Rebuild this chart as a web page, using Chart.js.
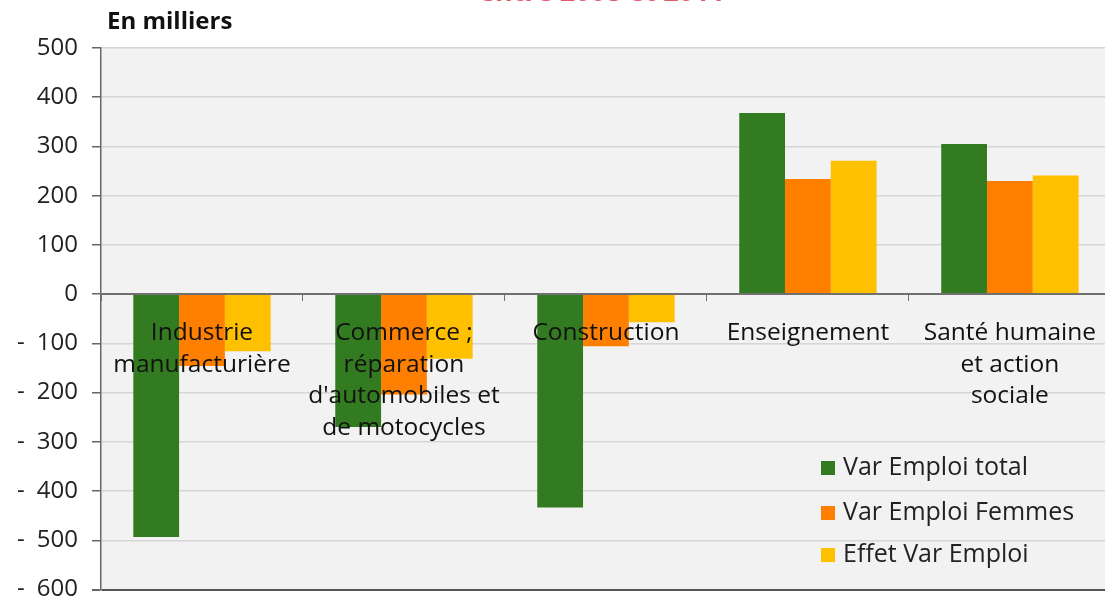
<!DOCTYPE html>
<html>
<head>
<meta charset="utf-8">
<script src="https://cdn.jsdelivr.net/npm/chart.js@4/dist/chart.umd.min.js"></script>
<style>
  html, body { margin: 0; padding: 0; background: #fff; overflow: hidden; }
  #wrap { width: 1113px; height: 606px; }
</style>
</head>
<body>
<div id="wrap"><canvas id="empChart"></canvas></div>
<script>
const categories = [
  ["Industrie", "manufacturière"],
  ["Commerce ;", "réparation", "d'automobiles et", "de motocycles"],
  ["Construction"],
  ["Enseignement"],
  ["Santé humaine", "et action", "sociale"]
];
const seriesNames = ["Var Emploi total", "Var Emploi Femmes", "Effet Var Emploi"];
const varTotal = [-493, -270, -433, 368, 305];
const varFemmes = [-146, -204, -106, 234, 230];
const effetVar = [-116, -131, -57, 271, 241];
const yTicks = [500, 400, 300, 200, 100, 0, -100, -200, -300, -400, -500, -600];

const colors = ["#337b21", "#ff8000", "#ffc000"];
const font = "'Open Sans', 'DejaVu Sans', sans-serif";

// grey plot background + top text + legend inside the plot
const decor = {
  id: "decor",
  beforeDraw(chart) {
    const { ctx, chartArea: a } = chart;
    ctx.save();
    ctx.fillStyle = "#f2f2f2";
    ctx.fillRect(a.left, a.top, a.right - a.left, a.bottom - a.top);
    ctx.restore();
  },
  afterDraw(chart) {
    const { ctx, chartArea: a } = chart;
    ctx.save();
    ctx.fillStyle = "#111";
    ctx.font = "bold 24px " + font;
    ctx.textBaseline = "middle";
    ctx.fillText("En milliers", a.left + 6, 22);

    ctx.fillStyle = "#e05a6a";
    ctx.font = "bold 27px " + font;
    ctx.textAlign = "center";
    ctx.textBaseline = "alphabetic";
    ctx.fillText("entre 2008 et 2011", 602, 1);

    ctx.textAlign = "left";
    ctx.textBaseline = "middle";
    ctx.font = "25px " + font;
    const ys = [468, 513, 555];
    chart.data.datasets.forEach((ds, i) => {
      ctx.fillStyle = ds.backgroundColor;
      ctx.fillRect(821, ys[i] - 7, 14, 14);
      ctx.fillStyle = "#222";
      ctx.fillText(ds.label, 843, ys[i]);
    });
    ctx.restore();
  }
};

new Chart(document.getElementById("empChart"), {
  type: "bar",
  data: {
    labels: categories,
    datasets: [
      { label: seriesNames[0], data: varTotal, backgroundColor: colors[0] },
      { label: seriesNames[1], data: varFemmes, backgroundColor: colors[1] },
      { label: seriesNames[2], data: effetVar, backgroundColor: colors[2] }
    ]
  },
  options: {
    responsive: true,
    maintainAspectRatio: false,
    animation: false,
    layout: { padding: { top: 48, bottom: 16, left: 0, right: 0 } },
    datasets: { bar: { categoryPercentage: 0.68, barPercentage: 1 } },
    plugins: { legend: { display: false }, tooltip: { enabled: false } },
    scales: {
      x: {
        position: { y: 0 },
        border: { color: "#707070", width: 2, z: 1 },
        grid: { drawOnChartArea: false, drawTicks: true, tickLength: 6, tickColor: "#707070", offset: true, z: 1 },
        ticks: {
          z: 1,
          color: "#111",
          font: { family: font, size: 24.5, lineHeight: 1.29 },
          padding: 17,
          maxRotation: 0,
          autoSkip: false
        }
      },
      y: {
        min: -600,
        max: 500,
        afterBuildTicks(scale) { scale.ticks = yTicks.map(v => ({ value: v })); },
        afterFit(scale) { scale.width = 101; },
        border: { color: "#666", width: 1.5 },
        grid: {
          color: ctx => ctx.tick && ctx.tick.value === -600 ? "#555" : "#d6d6d6",
          lineWidth: ctx => ctx.tick && ctx.tick.value === -600 ? 2 : 1.5,
          tickColor: "#666",
          tickLength: 9
        },
        ticks: {
          color: "#222",
          font: { family: font, size: 24, lineHeight: 0.2 },
          padding: 14,
          callback: v => v < 0 ? "-\u2002" + Math.abs(v) : String(v)
        }
      }
    }
  },
  plugins: [decor]
});
</script>
</body>
</html>
